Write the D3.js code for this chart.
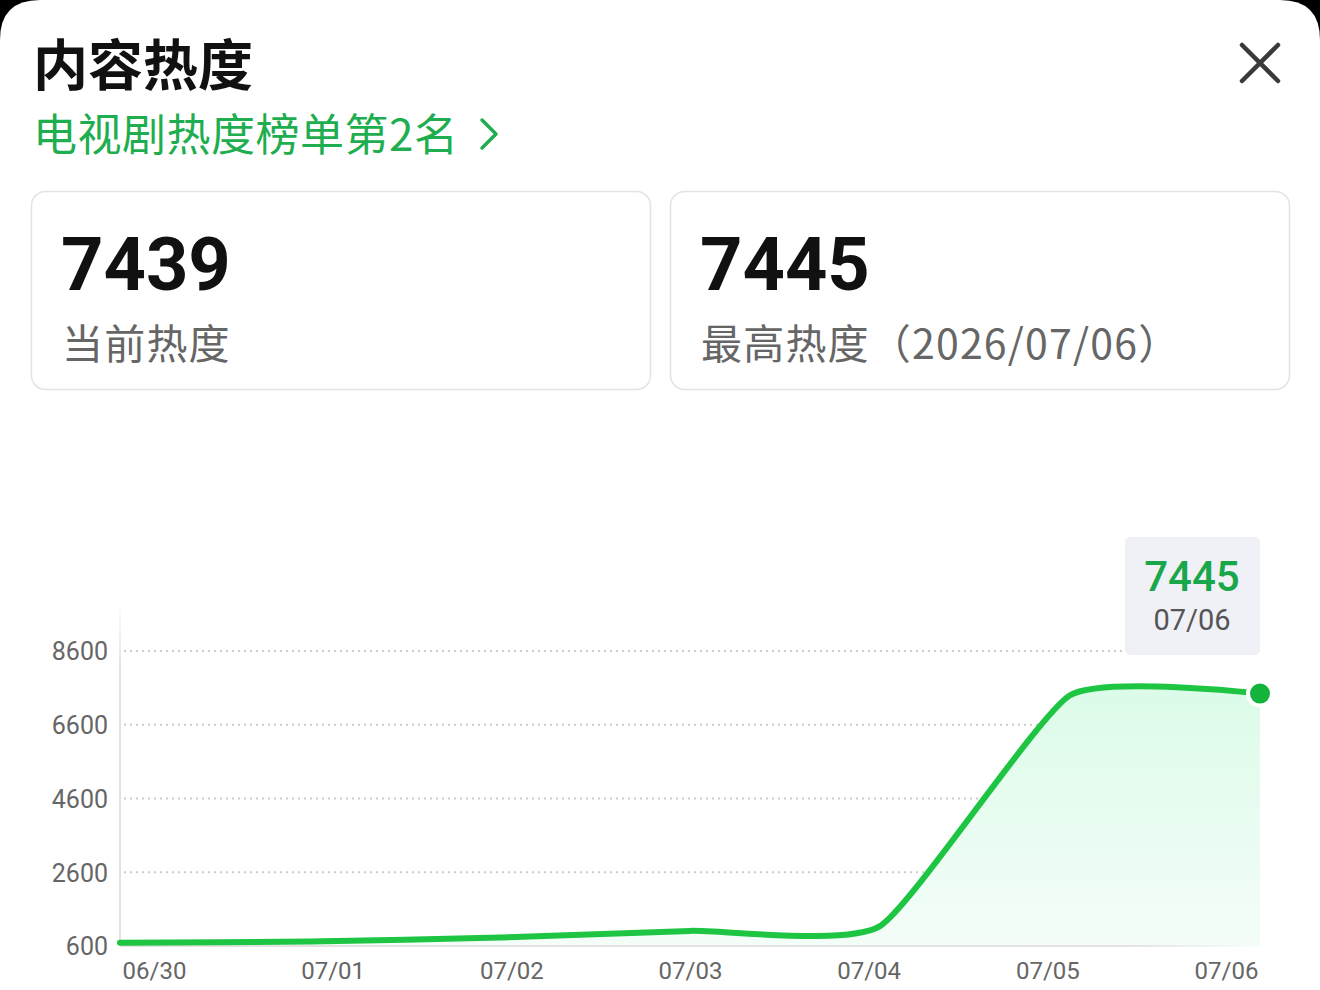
<!DOCTYPE html>
<html>
<head>
<meta charset="utf-8">
<script src="https://cdn.jsdelivr.net/npm/d3@7"></script>
<style>
  body { margin: 0; background: #000; }
  svg { display: block; }
  text { font-family: "Noto Sans CJK SC", "Noto Sans", sans-serif; }
  .num { font-family: Roboto, "Noto Sans", sans-serif; }
</style>
</head>
<body>
<svg id="chart"></svg>
<script>
// data
let dates = ["06/30", "07/01", "07/02", "07/03", "07/04", "07/05", "07/06"]
let heat = [690, 720, 830, 1010, 1140, 7400, 7445]
let yTicks = [600, 2600, 4600, 6600, 8600]

let title = "内容热度"
let rankText = "电视剧热度榜单第2名"
let currentHeat = 7439
let peakHeat = 7445
let peakDate = "2026/07/06"

let width = 1320
let height = 990

let svg = d3.select("#chart")
  .attr("width", width)
  .attr("height", height)

// white sheet with rounded top corners
svg.append("path")
  .attr("d", "M0,990 L0,40 Q0,0 40,0 L1280,0 Q1320,0 1320,40 L1320,990 Z")
  .attr("fill", "#fff")

// header
svg.append("text")
  .attr("x", 33).attr("y", 85)
  .attr("font-size", 55).attr("font-weight", 700)
  .attr("fill", "#111")
  .text(title)

svg.append("text")
  .attr("x", 33).attr("y", 151)
  .attr("font-size", 44)
  .attr("letter-spacing", 0.5)
  .attr("fill", "#1fae4f")
  .text(rankText)

svg.append("path")
  .attr("d", "M482,120 L496,134 L482,148")
  .attr("fill", "none").attr("stroke", "#1fae4f")
  .attr("stroke-width", 3.5).attr("stroke-linecap", "round").attr("stroke-linejoin", "round")

// close icon
svg.append("path")
  .attr("d", "M1242,45 L1278,81 M1278,45 L1242,81")
  .attr("stroke", "#3a3a3a").attr("stroke-width", 4.5).attr("stroke-linecap", "round")

// stat cards
let cards = [
  {x: 31, value: currentHeat, label: "当前热度"},
  {x: 670, value: peakHeat, label: "最高热度（" + peakDate + "）"}
]
cards.forEach(function(c) {
  svg.append("rect")
    .attr("x", c.x + 0.5).attr("y", 191.5)
    .attr("width", 619).attr("height", 198)
    .attr("rx", 14)
    .attr("fill", "#fff").attr("stroke", "#e3e3e3").attr("stroke-width", 1.5)
  svg.append("text")
    .attr("class", "num")
    .attr("x", c.x + 30).attr("y", 290)
    .attr("font-size", 74).attr("font-weight", 700)
    .attr("fill", "#111")
    .text(c.value)
  svg.append("text")
    .attr("x", c.x + 31).attr("y", 359)
    .attr("font-size", 41)
    .attr("letter-spacing", 1.2)
    .attr("fill", "#666")
    .text(c.label)
})

// chart scales
let xScale = d3.scalePoint()
  .domain(dates)
  .range([120, 1260])

// tick labels sit inset so the first and last labels stay inside the plot
let xLabelScale = d3.scalePoint()
  .domain(dates)
  .range([154, 1226])

let yScale = d3.scaleLinear()
  .domain([600, 8600])
  .range([946, 651])

let defs = svg.append("defs")

let areaGrad = defs.append("linearGradient")
  .attr("id", "areaGrad")
  .attr("x1", 0).attr("y1", 0).attr("x2", 0).attr("y2", 1)
areaGrad.append("stop").attr("offset", "0%").attr("stop-color", "#dcfbe9")
areaGrad.append("stop").attr("offset", "100%").attr("stop-color", "#f4fdf8")

let axisGrad = defs.append("linearGradient")
  .attr("id", "axisGrad")
  .attr("x1", 0).attr("y1", 0).attr("x2", 0).attr("y2", 1)
axisGrad.append("stop").attr("offset", "0%").attr("stop-color", "#e2e2e2").attr("stop-opacity", 0)
axisGrad.append("stop").attr("offset", "20%").attr("stop-color", "#e2e2e2").attr("stop-opacity", 1)
axisGrad.append("stop").attr("offset", "100%").attr("stop-color", "#e2e2e2").attr("stop-opacity", 1)

let baseGrad = defs.append("linearGradient")
  .attr("id", "baseGrad")
  .attr("x1", 0).attr("y1", 0).attr("x2", 1).attr("y2", 0)
baseGrad.append("stop").attr("offset", "0%").attr("stop-color", "#e2e2e2").attr("stop-opacity", 1)
baseGrad.append("stop").attr("offset", "88%").attr("stop-color", "#e2e2e2").attr("stop-opacity", 1)
baseGrad.append("stop").attr("offset", "100%").attr("stop-color", "#e2e2e2").attr("stop-opacity", 0)

// grid lines (dotted)
svg.append("g")
  .selectAll("line")
  .data(yTicks.slice(1))
  .enter()
  .append("line")
  .attr("x1", 124).attr("x2", 1260)
  .attr("y1", (d) => yScale(d)).attr("y2", (d) => yScale(d))
  .attr("stroke", "#cccccc").attr("stroke-width", 2)
  .attr("stroke-dasharray", "2,4")

// area + line
let curve = d3.curveCardinal.tension(0.5)

let area = d3.area()
  .x((d, i) => xScale(dates[i]))
  .y0(yScale(600))
  .y1((d) => yScale(d))
  .curve(curve)

let line = d3.line()
  .x((d, i) => xScale(dates[i]))
  .y((d) => yScale(d))
  .curve(curve)

svg.append("path")
  .datum(heat)
  .attr("d", area)
  .attr("fill", "url(#areaGrad)")

// axis lines
svg.append("rect")
  .attr("x", 119).attr("y", 600)
  .attr("width", 2).attr("height", 346)
  .attr("fill", "url(#axisGrad)")

svg.append("rect")
  .attr("x", 120).attr("y", 945)
  .attr("width", 1140).attr("height", 2)
  .attr("fill", "url(#baseGrad)")

svg.append("path")
  .datum(heat)
  .attr("d", line)
  .attr("fill", "none")
  .attr("stroke", "#1ec542")
  .attr("stroke-width", 6)
  .attr("stroke-linecap", "round")

// y axis labels
let yAxis = d3.axisLeft(yScale)
  .tickValues(yTicks)
  .tickFormat(d3.format("d"))
  .tickSize(0)
  .tickPadding(0)

svg.append("g")
  .attr("transform", "translate(108,0)")
  .call(yAxis)
  .call((g) => g.select(".domain").remove())
  .selectAll("text")
  .attr("class", "num")
  .attr("font-size", 25)
  .attr("fill", "#666")
  .attr("dy", "0.35em")

// x axis labels
let xAxis = d3.axisBottom(xLabelScale)
  .tickSize(0)
  .tickPadding(0)

svg.append("g")
  .attr("transform", "translate(0,962)")
  .call(xAxis)
  .call((g) => g.select(".domain").remove())
  .selectAll("text")
  .attr("class", "num")
  .attr("font-size", 24)
  .attr("fill", "#666")
  .attr("dy", "0.71em")

// highlighted last point + tooltip
let lastIdx = heat.length - 1
let px = xScale(dates[lastIdx])
let py = yScale(heat[lastIdx])

svg.append("circle")
  .attr("cx", px).attr("cy", py)
  .attr("r", 12)
  .attr("fill", "#14b33c")
  .attr("stroke", "#fff").attr("stroke-width", 4)

let tip = svg.append("g")
tip.append("rect")
  .attr("x", 1125).attr("y", 537)
  .attr("width", 135).attr("height", 118)
  .attr("rx", 5)
  .attr("fill", "#f0f1f6")
tip.append("text")
  .attr("class", "num")
  .attr("x", 1192).attr("y", 591)
  .attr("text-anchor", "middle")
  .attr("font-size", 42).attr("font-weight", 500)
  .attr("fill", "#1aa64a")
  .text(heat[lastIdx])
tip.append("text")
  .attr("class", "num")
  .attr("x", 1192).attr("y", 630)
  .attr("text-anchor", "middle")
  .attr("font-size", 29)
  .attr("fill", "#555")
  .text(dates[lastIdx])
</script>
</body>
</html>
